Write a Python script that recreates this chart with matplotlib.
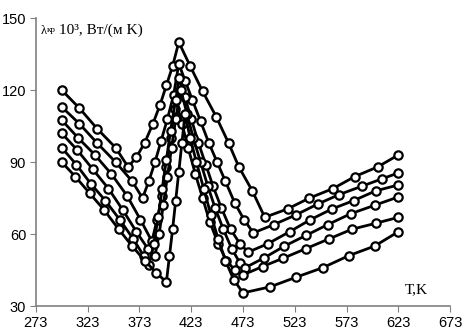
import matplotlib
matplotlib.use('Agg')
import matplotlib.pyplot as plt

plt.rcParams['font.family'] = ['Liberation Serif', 'DejaVu Serif']

# temperature (K) and conductivity values per curve
t1 = [298, 315, 332, 350, 362, 370, 378, 386, 393, 399, 405, 411,
      422, 434, 447, 459, 469, 482, 494, 516, 537, 560, 581, 603, 623]
v1 = [120, 112.5, 104, 96, 88, 92, 98, 106, 114, 122, 130, 140,
      130, 119.5, 109, 98, 88, 78, 67, 70.5, 75, 79, 84, 88, 93]

t2 = [298, 315, 332, 350, 366, 376, 382, 388, 394, 400, 406, 411,
      417, 424, 432, 440, 448, 456, 465, 474, 483, 503, 524, 545, 566, 588, 607, 623]
v2 = [113, 106, 98, 90, 82, 75, 82, 90, 99, 108, 118, 131,
      124, 116, 107, 98, 90, 82, 73, 66, 60.5, 64, 68, 72.5, 76.5, 80, 83, 85.5]

t3 = [298, 314, 330, 346, 361, 374, 385, 390, 395, 399, 403, 407, 411,
      417, 423, 430, 437, 444, 452, 461, 470, 478, 497, 518, 538, 559, 580, 601, 623]
v3 = [107.5, 100, 93, 85, 76, 66, 57, 66, 76, 88, 100, 112, 125,
      117, 108, 98, 89, 80, 71, 62, 56, 52.5, 56, 61, 66, 70.5, 74, 78, 80.5]

t4 = [298, 313, 328, 343, 357, 370, 381, 388, 392, 396, 400, 404, 408, 413,
      419, 425, 432, 439, 446, 454, 462, 470, 475, 493, 513, 534, 555, 577, 600, 623]
v4 = [102, 95, 87, 79, 70, 61, 54, 51, 60, 72, 84, 96, 108, 120,
      110, 100, 90, 80, 71, 62, 54, 48, 46, 50, 55, 59.5, 64, 68.5, 72, 75.5]

t5 = [298, 312, 326, 340, 354, 367, 377, 382, 387, 391, 395, 399, 403, 408,
      414, 420, 427, 434, 441, 449, 457, 465, 473, 492, 512, 534, 556, 578, 601, 623]
v5 = [96, 89, 81, 74, 66, 58, 51, 47, 56, 67, 79, 91, 103, 116,
      106, 96, 85, 75, 65, 56, 49, 45, 43, 46.5, 50, 54, 58, 62, 64.5, 67]

t6 = [298, 311, 325, 339, 353, 366, 378, 389, 399, 402, 405, 408, 411, 414, 417,
      422, 428, 435, 442, 449, 456, 464, 473, 499, 524, 550, 575, 600, 623]
v6 = [90, 84, 77, 70, 62, 55, 49, 44, 40, 51, 62, 74, 86, 98, 110,
      100, 90, 79, 68, 58, 49, 41, 35.5, 38, 42, 46, 51, 55, 61]

curves = [(t1, v1), (t2, v2), (t3, v3), (t4, v4), (t5, v5), (t6, v6)]

x_ticks = [273, 323, 373, 423, 473, 523, 573, 623, 673]
y_ticks = [30, 60, 90, 120, 150]

fig = plt.figure(figsize=(4.66, 3.36), dpi=100)
ax = fig.add_axes([0.077, 0.089, 0.889, 0.857])

for t, v in curves:
    ax.plot(t, v, color='black', linewidth=2.0, marker='o', markersize=6,
            markerfacecolor='white', markeredgecolor='black', markeredgewidth=1.6)

ax.set_xlim(273, 673)
ax.set_ylim(30, 150)
ax.set_xticks(x_ticks)
ax.set_yticks(y_ticks)
ax.tick_params(direction='out', length=4, color='#808080', labelsize=10.5, pad=3)
for lab in ax.get_xticklabels() + ax.get_yticklabels():
    lab.set_family(['Liberation Sans Narrow', 'Liberation Sans', 'DejaVu Sans'])
for s in ['top', 'right']:
    ax.spines[s].set_visible(False)
for s in ['left', 'bottom']:
    ax.spines[s].set_color('#808080')
    ax.spines[s].set_linewidth(1.2)
ax.grid(False)

# y axis label at top left
fig.text(41 / 466, 1 - 31 / 336, 'λ', fontsize=9, va='center', ha='left')
fig.text(47 / 466, 1 - 30 / 336, 'кр', fontsize=6.5, va='center', ha='left')
fig.text(59 / 466, 1 - 30 / 336, '10³, Вт/(м K)', fontsize=11, va='center', ha='left')

# x axis label
ax.text(640, 37, 'T,K', fontsize=11, ha='center', va='center')

fig.savefig('out.png', dpi=100)
